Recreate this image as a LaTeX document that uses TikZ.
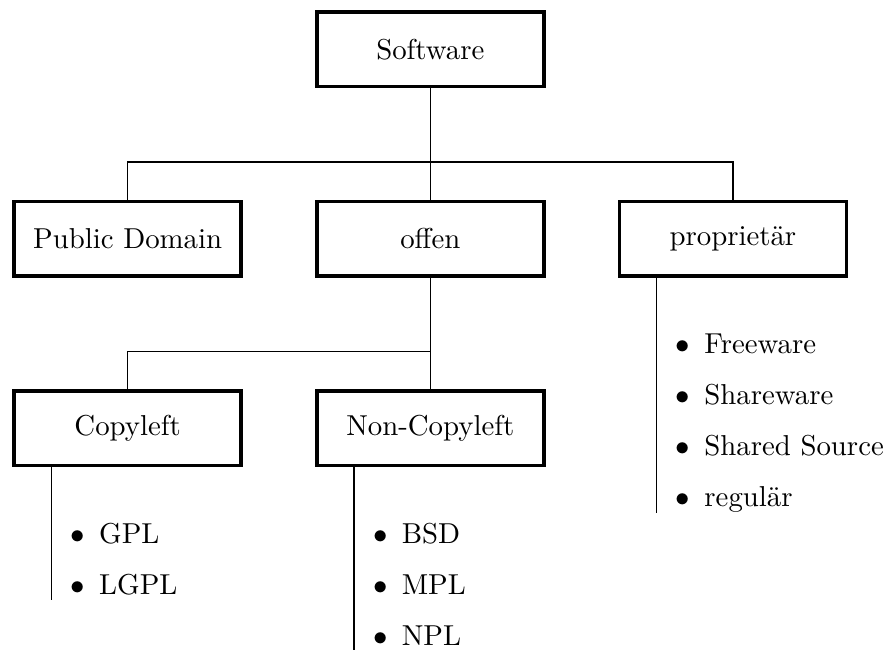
\documentclass[tikz,border=0pt]{standalone}
\usepackage{fontspec}
\usetikzlibrary{positioning}

\begin{document}
\begin{tikzpicture}[licbox/.style={draw, line width=1.2pt, minimum width=2.77cm, minimum height=0.91cm},
    licitem/.style={anchor=base west, inner sep=0pt},
    node distance=1.36cm and 0.88cm]
      \useasboundingbox (0,0) rectangle (10.81,-7.93);
      \node[licbox] (sw) at (5.25,-0.6) {Software};
      \node[licbox, below=of sw] (offen) {offen};
      \node[licbox, left=of offen] (pd) {Public Domain};
      \node[licbox, right=of offen] (prop) {propriet\"ar};
      \node[licbox, below=of pd] (cl) {Copyleft};
      \node[licbox, below=of offen] (ncl) {Non-Copyleft};
      % tree branches
      \coordinate (bar1) at ([yshift=-0.9cm]sw.south);
      \coordinate (bar2) at ([yshift=-0.9cm]offen.south);
      \draw (sw) -- (offen);
      \draw (pd.north) |- (bar1) -| (prop.north);
      \draw (offen) -- (ncl);
      \draw (cl.north) |- (bar2);
      % lists
      \node[licitem] (fw) at ([xshift=0.70cm, yshift=-0.93cm]prop.south west) {$\bullet$\hspace{0.5em}Freeware};
      \node[licitem] (shw) at ([yshift=-0.622cm]fw.base west) {$\bullet$\hspace{0.5em}Shareware};
      \node[licitem] (shs) at ([yshift=-0.622cm]shw.base west) {$\bullet$\hspace{0.5em}Shared Source};
      \node[licitem] (reg) at ([yshift=-0.622cm]shs.base west) {$\bullet$\hspace{0.5em}regul\"ar};
      \node[licitem] (gpl) at ([xshift=0.70cm, yshift=-0.93cm]cl.south west) {$\bullet$\hspace{0.5em}GPL};
      \node[licitem] (lgpl) at ([yshift=-0.622cm]gpl.base west) {$\bullet$\hspace{0.5em}LGPL};
      \node[licitem] (bsd) at ([xshift=0.70cm, yshift=-0.93cm]ncl.south west) {$\bullet$\hspace{0.5em}BSD};
      \node[licitem] (mpl) at ([yshift=-0.622cm]bsd.base west) {$\bullet$\hspace{0.5em}MPL};
      \node[licitem] (npl) at ([yshift=-0.622cm]mpl.base west) {$\bullet$\hspace{0.5em}NPL};
      \coordinate (propend) at (prop.south west |- reg.base);
      \coordinate (clend) at (cl.south west |- lgpl.base);
      \coordinate (nclend) at (ncl.south west |- npl.base);
      \draw ([xshift=0.476cm]prop.south west) -- ([xshift=0.476cm, yshift=-0.07cm]propend);
      \draw ([xshift=0.476cm]cl.south west) -- ([xshift=0.476cm, yshift=-0.07cm]clend);
      \draw ([xshift=0.476cm]ncl.south west) -- ([xshift=0.476cm, yshift=-0.07cm]nclend);
    \end{tikzpicture}
\end{document}
